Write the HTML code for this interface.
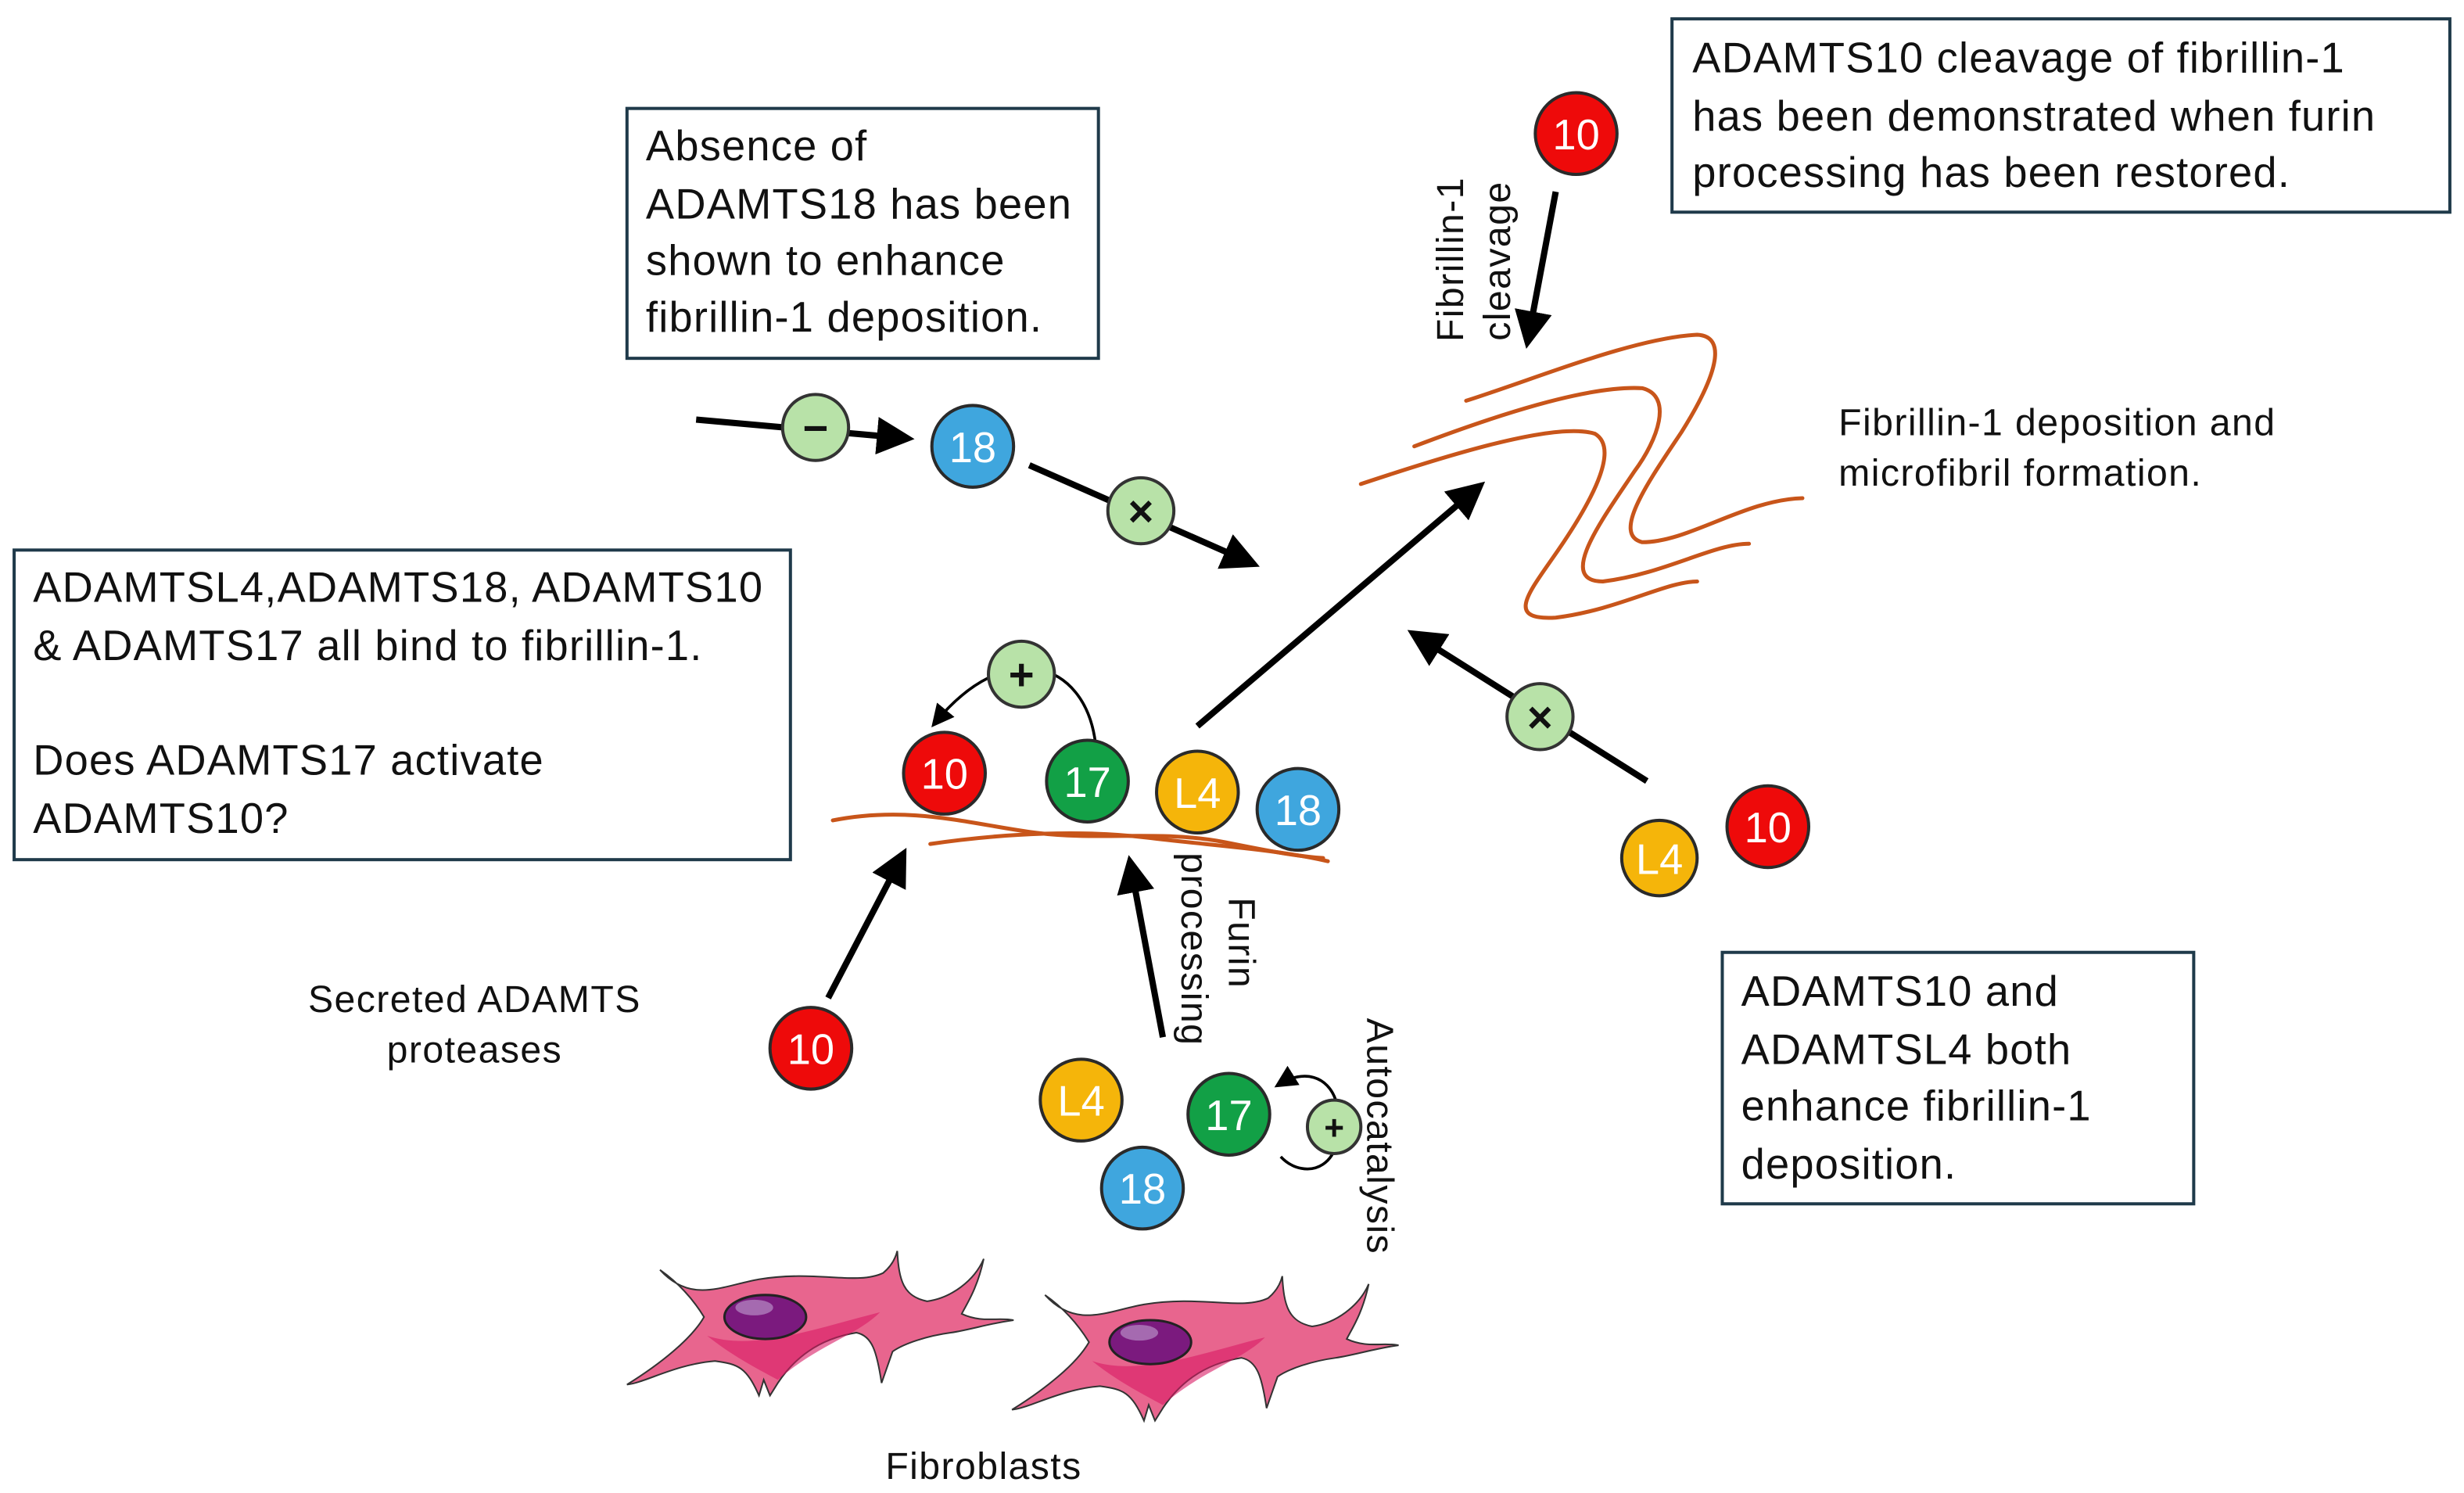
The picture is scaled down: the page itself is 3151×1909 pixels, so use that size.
<!DOCTYPE html>
<html><head><meta charset="utf-8"><style>
html,body{margin:0;padding:0;background:#fff;}
svg{display:block;}
text{font-family:"Liberation Sans",sans-serif;fill:#111;}
.bx{font-size:27px;letter-spacing:0.6px;}
.lb{font-size:24px;letter-spacing:0.7px;}
</style></head><body>
<svg width="3151" height="1909" viewBox="0 0 1568 950" preserveAspectRatio="none" xmlns="http://www.w3.org/2000/svg">
<defs>
<marker id="ah" markerWidth="6" markerHeight="6" refX="5" refY="3" orient="auto" markerUnits="strokeWidth">
<path d="M0,0 L6,3 L0,6 z" fill="#000"/></marker>
<marker id="ahs" markerWidth="8" markerHeight="8" refX="6" refY="4" orient="auto" markerUnits="strokeWidth">
<path d="M0,0 L8,4 L0,8 z" fill="#000"/></marker>
</defs>

<g fill="#fff" stroke="#1f3a4a" stroke-width="2">
<rect x="399" y="69" width="300" height="159"/>
<rect x="1064" y="12" width="495" height="123"/>
<rect x="9" y="350" width="494" height="197"/>
<rect x="1096" y="606" width="300" height="160"/>
</g>
<g class="bx">
<text x="411" y="102">Absence of</text>
<text x="411" y="139">ADAMTS18 has been</text>
<text x="411" y="175">shown to enhance</text>
<text x="411" y="211">fibrillin-1 deposition.</text>
<text x="1077" y="46">ADAMTS10 cleavage of fibrillin-1</text>
<text x="1077" y="83">has been demonstrated when furin</text>
<text x="1077" y="119">processing has been restored.</text>
<text x="21" y="383">ADAMTSL4,ADAMTS18, ADAMTS10</text>
<text x="21" y="420">&amp; ADAMTS17 all bind to fibrillin-1.</text>
<text x="21" y="493">Does ADAMTS17 activate</text>
<text x="21" y="530">ADAMTS10?</text>
<text x="1108" y="640">ADAMTS10 and</text>
<text x="1108" y="677">ADAMTSL4 both</text>
<text x="1108" y="713">enhance fibrillin-1</text>
<text x="1108" y="750">deposition.</text>
</g>
<g class="lb">
<text x="1170" y="277">Fibrillin-1 deposition and</text>
<text x="1170" y="309">microfibril formation.</text>
<text x="302" y="644" text-anchor="middle">Secreted ADAMTS</text>
<text x="302" y="676" text-anchor="middle">proteases</text>
<text x="626" y="941" text-anchor="middle">Fibroblasts</text>
<text transform="translate(931,165) rotate(-90)" text-anchor="middle">Fibrillin-1</text>
<text transform="translate(961,166) rotate(-90)" text-anchor="middle">cleavage</text>
<text transform="translate(782,600) rotate(90)" text-anchor="middle">Furin</text>
<text transform="translate(752,604) rotate(90)" text-anchor="middle">processing</text>
<text transform="translate(870,723) rotate(90)" text-anchor="middle">Autocatalysis</text>
</g>

<g fill="none" stroke="#c8551a" stroke-width="2.5" stroke-linecap="round">
<path d="M933,255 C980,240 1040,215 1080,213 C1100,214 1092,240 1070,275 C1050,305 1025,340 1045,345 C1075,345 1110,318 1147,317"/>
<path d="M900,284 C950,265 1010,245 1045,247 C1065,252 1055,280 1040,300 C1020,330 990,370 1020,370 C1060,365 1090,346 1113,346"/>
<path d="M866,308 C920,290 990,268 1015,276 C1030,285 1015,315 995,345 C975,375 955,395 990,393 C1030,388 1060,370 1080,370"/>
<path d="M530,522 C580,512 620,525 660,530 C700,535 740,528 780,536 C805,541 825,545 842,546"/>
<path d="M592,537 C640,530 690,528 730,533 C770,538 810,540 845,548"/>
</g>

<g stroke="#000" stroke-width="4" fill="none" marker-end="url(#ah)">
<line x1="990" y1="122" x2="972" y2="218"/>
<line x1="443" y1="267" x2="578" y2="279"/>
<line x1="655" y1="296" x2="798" y2="359"/>
<line x1="762" y1="462" x2="942" y2="309"/>
<line x1="1048" y1="497" x2="899" y2="403"/>
<line x1="527" y1="635" x2="575" y2="543"/>
<line x1="740" y1="660" x2="719" y2="548"/>
</g>
<g stroke="#000" stroke-width="1.8" fill="none" marker-end="url(#ahs)">
<path d="M697,472 C690,420 640,405 595,460"/>
<path d="M815,736 C830,752 860,745 850,700 C845,685 830,680 814,690"/>
</g>

<g fill="#b8e2a8" stroke="#333" stroke-width="2">
<circle cx="519" cy="272" r="21"/>
<circle cx="726" cy="325" r="21"/>
<circle cx="980" cy="456" r="21"/>
<circle cx="650" cy="429" r="21"/>
<circle cx="849" cy="717" r="17"/>
</g>
<g font-size="28" font-weight="bold" text-anchor="middle">
<text x="519" y="282">−</text>
<text x="726" y="335">×</text>
<text x="980" y="466">×</text>
<text x="650" y="439">+</text>
<text x="849" y="725" font-size="22">+</text>
</g>

<g stroke="#2a2a2a" stroke-width="2">
<circle cx="1003" cy="85" r="26" fill="#ee0a0a"/>
<circle cx="619" cy="284" r="26" fill="#3fa6de"/>
<circle cx="601" cy="492" r="26" fill="#ee0a0a"/>
<circle cx="692" cy="497" r="26" fill="#12a046"/>
<circle cx="762" cy="504" r="26" fill="#f5b50a"/>
<circle cx="826" cy="515" r="26" fill="#3fa6de"/>
<circle cx="1056" cy="546" r="24" fill="#f5b50a"/>
<circle cx="1125" cy="526" r="26" fill="#ee0a0a"/>
<circle cx="516" cy="667" r="26" fill="#ee0a0a"/>
<circle cx="688" cy="700" r="26" fill="#f5b50a"/>
<circle cx="782" cy="709" r="26" fill="#12a046"/>
<circle cx="727" cy="756" r="26" fill="#3fa6de"/>
</g>
<g font-size="27" text-anchor="middle">
<text x="1003" y="95" style="fill:#fff">10</text>
<text x="619" y="294" style="fill:#fff">18</text>
<text x="601" y="502" style="fill:#fff">10</text>
<text x="692" y="507" style="fill:#fff">17</text>
<text x="762" y="514" style="fill:#fff">L4</text>
<text x="826" y="525" style="fill:#fff">18</text>
<text x="1056" y="556" style="fill:#fff">L4</text>
<text x="1125" y="536" style="fill:#fff">10</text>
<text x="516" y="677" style="fill:#fff">10</text>
<text x="688" y="710" style="fill:#fff">L4</text>
<text x="782" y="719" style="fill:#fff">17</text>
<text x="727" y="766" style="fill:#fff">18</text>
</g>

<g id="cell">
<path d="M420,808 C440,830 460,818 483,814 C520,808 545,818 562,810 C568,805 570,800 571,796 C572,815 575,825 590,828 C605,826 620,815 626,801 C622,820 615,830 612,836 C625,842 635,838 645,840 C630,842 618,846 605,848 C590,850 575,855 568,860 L561,880 C558,860 555,850 545,848 C520,852 505,865 495,880 L490,888 L486,878 L483,888 C475,870 470,868 455,866 C430,868 410,880 399,881 C420,868 440,852 448,838 C440,825 430,815 420,808 z" fill="#e8658e" stroke="#333" stroke-width="1"/>
<path d="M450,850 C480,860 520,845 560,835 C545,850 520,856 495,878 C480,870 465,862 450,850 z" fill="#d81b64" opacity="0.6"/>
<ellipse cx="487" cy="838" rx="26" ry="14" fill="#7b1a7e" stroke="#222" stroke-width="1.5"/>
<ellipse cx="480" cy="832" rx="12" ry="5" fill="#a56ab0"/>
</g>
<use href="#cell" transform="translate(245,16)"/>
</svg>
</body></html>
